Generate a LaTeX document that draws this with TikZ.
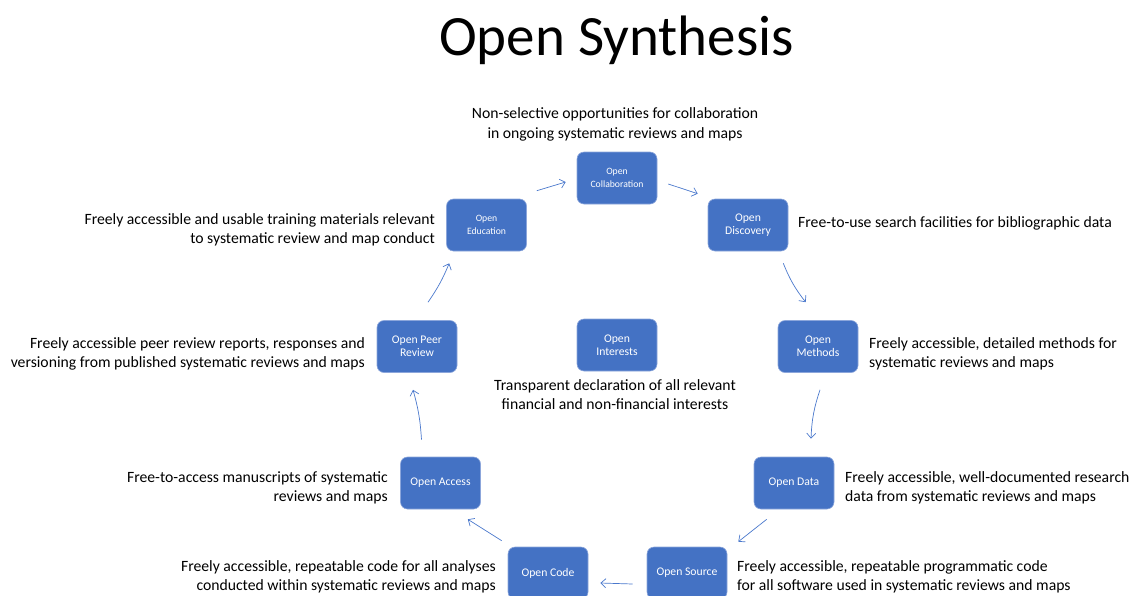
\documentclass[tikz,border=0pt]{standalone}
\usepackage{fontspec}
\setmainfont{Carlito}
\usetikzlibrary{arrows.meta,calc}
\definecolor{boxblue}{HTML}{4472C4}
\definecolor{boxedge}{HTML}{8CA6DB}
\definecolor{arrblue}{HTML}{4A78CC}
\begin{document}
\begin{tikzpicture}[x=1pt,y=-1pt,
  box/.style={draw=boxedge, line width=0.6pt, fill=boxblue, rounded corners=7pt,
    minimum width=80pt, minimum height=52pt, text=white, inner sep=2pt,
    font=\fontsize{11.7}{13}\selectfont, align=center},
  smallbox/.style={box, font=\fontsize{9.7}{12.3}\selectfont},
  desc/.style={font=\fontsize{15.7}{19.5}\selectfont, inner sep=0pt},
  arr/.style={draw=arrblue, line width=0.7pt, -{Straight Barb[length=5pt,width=9pt]}}]
\useasboundingbox (0,0) rectangle (1131,595);

\node[anchor=base, font=\fontsize{57}{60}\selectfont, inner sep=0pt] (title) at (616.5,55) {Open Synthesis};

\node[smallbox] (collab) at (617,178) {Open\\Collaboration};
\node[smallbox] (edu) at (486.5,225) {Open\\Education};
\node[box] (disc) at (748,225) {Open\\Discovery};
\node[box] (peer) at (417,346.5) {Open Peer\\Review};
\node[box] (inter) at (617,345) {Open\\Interests};
\node[box] (meth) at (818,346.5) {Open\\Methods};
\node[box] (access) at (440.5,483) {Open Access};
\node[box] (data) at (794,483) {Open Data};
\node[box] (code) at (548,573) {Open Code};
\node[box] (source) at (687,573) {Open Source};

\node[desc, anchor=base, align=center] (tcollab) at (615,138) {Non-selective opportunities for collaboration\\in ongoing systematic reviews and maps};
\node[desc, anchor=base east, align=right] (tedu) at (435,243.5) {Freely accessible and usable training materials relevant\\to systematic review and map conduct};
\node[desc, anchor=base west, align=left] (tdisc) at (798,227) {Free-to-use search facilities for bibliographic data};
\node[desc, anchor=base east, align=right] (tpeer) at (365,367.5) {Freely accessible peer review reports, responses and\\versioning from published systematic reviews and maps};
\node[desc, anchor=base, align=center] (tinter) at (615,409.5) {Transparent declaration of all relevant\\financial and non-financial interests};
\node[desc, anchor=base west, align=left] (tmeth) at (869,367.5) {Freely accessible, detailed methods for\\systematic reviews and maps};
\node[desc, anchor=base east, align=right] (taccess) at (388,501.5) {Free-to-access manuscripts of systematic\\reviews and maps};
\node[desc, anchor=base west, align=left] (tdata) at (845,501.5) {Freely accessible, well-documented research\\data from systematic reviews and maps};
\node[desc, anchor=base east, align=right] (tcode) at (496,590.5) {Freely accessible, repeatable code for all analyses\\conducted within systematic reviews and maps};
\node[desc, anchor=base west, align=left] (tsource) at (737,590.5) {Freely accessible, repeatable programmatic code\\for all software used in systematic reviews and maps};

\draw[arr] ($(edu.north east)+(10,-8)$) -- ($(collab.west)+(-11,4)$);
\draw[arr] ($(collab.east)+(11,6)$) -- ($(disc.north west)+(-10,-5)$);
\draw[arr] ($(disc.south east)+(-5,12)$) to[bend right=8] ($(meth.north west)+(28,-18)$);
\draw[arr] ($(meth.south)+(2,17)$) to[bend right=8] ($(data.north)+(17,-18)$);
\draw[arr] ($(data.south west)+(13,10)$) -- ($(source.north east)+(11,-5)$);
\draw[arr] ($(source.west)+(-14,11)$) -- ($(code.east)+(12,10)$);
\draw[arr] ($(code.north west)+(-6,-6)$) -- ($(access.south east)+(-13,10)$);
\draw[arr] ($(access.north)+(-19,-17)$) to[bend right=6] ($(peer.south)+(-4,17)$);
\draw[arr] ($(peer.north)+(11,-18)$) to[bend right=6] ($(edu.south west)+(3,12)$);
\end{tikzpicture}
\end{document}
